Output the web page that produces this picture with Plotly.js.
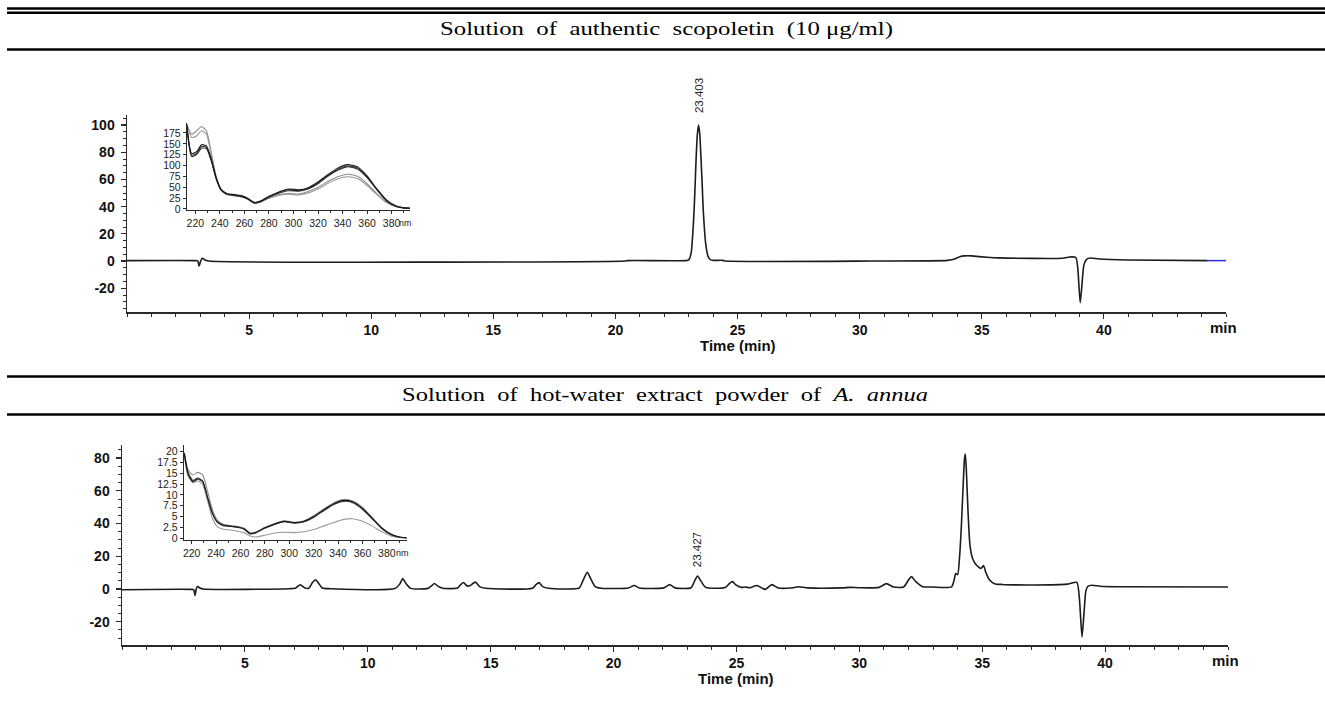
<!DOCTYPE html>
<html>
<head>
<meta charset="utf-8">
<script src="https://cdn.plot.ly/plotly-3.0.1.min.js"></script>
<style>html,body{margin:0;padding:0;background:#fff;}#chart{width:1325px;height:708px;}</style>
</head>
<body>
<div id="chart"></div>
<script>
// ---------- Chromatogram: authentic scopoletin (top) ----------
const topTime   = [0, 2.8, 2.9, 2.95, 3.0, 3.08, 3.2, 3.35, 20.4, 20.5, 22.9, 23.0, 23.1, 23.2, 23.25, 23.3, 23.35, 23.4, 23.45, 23.5, 23.55, 23.6, 23.7, 23.8, 23.9, 24.0, 24.4, 24.5, 30.5, 33.6, 33.9, 34.1, 34.3, 34.6, 34.9, 35.2, 35.7, 38.3, 38.6, 38.85, 38.93, 39.03, 39.1, 39.18, 39.3, 39.45, 39.8, 41.0, 44.25];
const topSignal = [0.3, 0.3, 0, -3.7, -1, 2, 0.8, 0, 0, 0.3, 0.3, 0.8, 6, 30, 50, 74, 92, 100, 94, 77, 57, 36, 12, 3, 0.8, 0.5, 0.5, 0, 0, 0.5, 1.5, 3.2, 3.8, 3.8, 3.2, 2.8, 2.3, 2.0, 3.0, 2.6, -5, -30.6, -18, -3, 1.4, 2.2, 1.5, 0.7, 0.3];
const topTailTime   = [44.25, 45];
const topTailSignal = [0.3, 0.3];

// ---------- Chromatogram: hot-water extract of A. annua (bottom) ----------
const botTime   = [0, 2.8, 2.92, 2.97, 3.02, 3.07, 3.15, 3.3, 6.8, 7.05, 7.25, 7.45, 7.6, 7.75, 7.88, 8.0, 8.15, 8.5,
  11.1, 11.3, 11.42, 11.55, 11.75, 12.45, 12.6, 12.71, 12.85, 13.05, 13.65, 13.8, 13.89, 14.05, 14.15, 14.38, 14.55, 14.8,
  16.7, 16.85, 16.97, 17.12, 17.35, 18.6, 18.75, 18.93, 19.08, 19.25, 19.5, 20.6, 20.84, 21.05, 22.05, 22.28, 22.5,
  23.15, 23.3, 23.42, 23.55, 23.75, 24.55, 24.72, 24.84, 24.98, 25.2, 25.36, 25.55, 25.83, 26.17, 26.44, 26.7, 27.2, 27.53, 27.9,
  29.3, 29.63, 30.0, 30.8, 31.1, 31.4, 31.8, 32.0, 32.12, 32.3, 32.55, 33.0, 33.75, 33.85, 33.92, 34.0, 34.08, 34.15, 34.22, 34.28, 34.31,
  34.35, 34.42, 34.5, 34.6, 34.72, 34.85, 34.95, 35.05, 35.15, 35.3, 35.5, 35.8, 37.1, 38.45, 38.85, 38.95, 39.06, 39.14, 39.22, 39.3, 39.46, 39.8, 40.5, 45];
const botSignal = [-0.4, -0.2, -0.5, -4, 0, 1.6, 0.8, 0, 0.2, 0.5, 2.6, 0.6, 0.5, 4, 5.6, 3.5, 0.6, 0.2,
  0.3, 3, 6.4, 3.5, 0.4, 0.4, 2, 3.4, 1.8, 0.5, 0.6, 3, 4, 1.8, 2, 4.2, 1.5, 0.5,
  0.5, 2.8, 3.9, 1.5, 0.5, 0.6, 5, 10.2, 6, 1.5, 0.5, 0.6, 2.2, 0.6, 0.7, 2.7, 0.7,
  0.8, 5, 8, 5, 1, 1, 3.5, 4.5, 2.5, 1, 1.2, 0.8, 2.2, -0.2, 2.7, 0.6, 0.6, 1.4, 0.7,
  0.7, 1, 0.8, 1.0, 3.3, 1.2, 1.2, 5.5, 7.6, 4.5, 1.6, 1.2, 1.3, 5, 9.5, 8.8, 20, 38, 62, 80, 82.5,
  74, 48, 27, 19, 15.5, 13.5, 12.5, 14.3, 10, 5.5, 3.3, 2.8, 2.5, 3.0, 4.1, -5, -29.3, -15, -1, 1.6, 2.3, 1.7, 1.4, 1.2];

// ---------- Peak labels ----------
const topPeakTimes = [23.403], topPeakHeights = [100], topPeakLabels = ['23.403'];
const botPeakTimes = [23.427], botPeakHeights = [8],   botPeakLabels = ['23.427'];

// ---------- UV spectra insets ----------
const wlTop = [213, 217, 221, 225, 229, 233, 237, 241, 246, 252, 258, 263, 268, 273, 280, 288, 296, 304, 312, 320, 328, 336, 344, 352, 360, 368, 376, 384, 390, 395];
const specTopGrey1 = [195, 172, 180, 190, 180, 130, 75, 45, 34, 31, 28, 23, 15, 17, 26, 33, 36, 34, 40, 50, 63, 74, 80, 75, 58, 35, 15, 5, 2, 1.5];
const specTopGrey2 = [195, 165, 168, 180, 172, 125, 72, 44, 33, 30, 27, 22, 14, 16, 24, 31, 34, 32, 37, 46, 59, 69, 74, 70, 54, 33, 14, 4.5, 2, 1.5];
const specTopDark1 = [195, 128, 132, 148, 145, 115, 72, 45, 35, 33, 30, 24, 15, 18, 29, 39, 46, 44, 49, 62, 79, 94, 102, 97, 76, 46, 20, 6, 2.5, 1.5];
const specTopDark2 = [193, 124, 128, 144, 142, 112, 70, 44, 34, 32, 29, 23, 14, 17, 28, 38, 44, 42, 47, 60, 77, 91, 99, 94, 74, 45, 19, 6, 2.5, 1.5];
const specTopDark3 = [190, 121, 125, 140, 139, 110, 69, 43, 33, 31, 28, 22, 13, 16, 27, 36, 42, 41, 46, 58, 75, 89, 97, 92, 72, 44, 18, 5.5, 2, 1.5];

const wlBot = [214, 217, 221, 225, 229, 233, 237, 241, 246, 252, 258, 263, 268, 273, 280, 288, 296, 304, 312, 320, 328, 336, 344, 352, 360, 368, 376, 384, 390, 396];
const specBotDark1 = [19.6, 15.2, 13.3, 13.9, 13.2, 9.5, 5.8, 3.8, 3.0, 2.8, 2.6, 2.2, 1.1, 1.4, 2.4, 3.3, 3.9, 3.6, 3.9, 5.0, 6.5, 7.9, 8.7, 8.4, 6.9, 4.6, 2.3, 0.8, 0.3, 0.1];
const specBotDark2 = [19.3, 14.8, 13.0, 13.6, 13.0, 9.3, 5.7, 3.7, 2.9, 2.7, 2.5, 2.1, 1.0, 1.3, 2.3, 3.2, 3.8, 3.5, 3.8, 4.8, 6.3, 7.7, 8.5, 8.2, 6.7, 4.5, 2.2, 0.8, 0.3, 0.1];
const specBotGrey  = [19.8, 15.8, 14.6, 15.2, 14.6, 10.8, 6.6, 4.2, 3.2, 2.9, 2.7, 2.3, 1.2, 1.5, 2.5, 3.4, 4.0, 3.7, 4.0, 5.2, 6.7, 8.1, 8.9, 8.6, 7.1, 4.8, 2.4, 0.9, 0.3, 0.1];
const specBotLight = [19.0, 14.3, 12.8, 13.2, 12.4, 8.6, 4.6, 2.7, 2.1, 1.9, 1.6, 1.3, 0.5, 0.3, 0.7, 1.2, 1.4, 1.3, 1.5, 2.0, 2.8, 3.6, 4.3, 4.5, 3.9, 2.8, 1.5, 0.5, 0.2, 0.1];

// ---------- Tick labels ----------
const timeTicks = [5, 10, 15, 20, 25, 30, 35, 40];
const topYTicks = [-20, 0, 20, 40, 60, 80, 100];
const botYTicks = [-20, 0, 20, 40, 60, 80];
const nmTicks = [220, 240, 260, 280, 300, 320, 340, 360, 380];
const insetTopYTicks = [0, 25, 50, 75, 100, 125, 150, 175];
const insetBotYTicks = [0, 2.5, 5, 7.5, 10, 12.5, 15, 17.5, 20];
const insetBotYText = ['0', '2.5', '5', '7.5', '10', '12.5', '15', '17.5', '20'];

const titleTopWords = ['Solution', 'of', 'authentic', 'scopoletin', '(10 μg/ml)'];
const titleBotWords = ['Solution', 'of', 'hot-water', 'extract', 'powder', 'of', '<i>A.</i>', '<i>annua</i>'];

// ---------- Build ----------
const W = 1325, H = 708;
const px = v => v / W, py = v => 1 - v / H;
const GAP = '\u00A0\u00A0';

const dark = '#1c1c1c';
const line = (x, y, xa, ya, color, width, shape) => ({
  x, y, xaxis: xa, yaxis: ya, type: 'scatter', mode: 'lines',
  line: {color, width, shape: shape || 'spline', smoothing: 0.6}, hoverinfo: 'skip'
});

const data = [
  line(topTime, topSignal, 'x', 'y', dark, 1.6),
  line(topTailTime, topTailSignal, 'x', 'y', '#2a2aff', 1.5, 'linear'),
  line(botTime, botSignal, 'x2', 'y2', dark, 1.6),
  line(wlTop, specTopGrey1, 'x3', 'y3', '#8c8c8c', 1.1),
  line(wlTop, specTopGrey2, 'x3', 'y3', '#9a9a9a', 1.1),
  line(wlTop, specTopDark3, 'x3', 'y3', '#3a3a3a', 1.1),
  line(wlTop, specTopDark2, 'x3', 'y3', '#2a2a2a', 1.1),
  line(wlTop, specTopDark1, 'x3', 'y3', '#1a1a1a', 1.1),
  line(wlBot, specBotLight, 'x4', 'y4', '#9a9a9a', 1.1),
  line(wlBot, specBotGrey, 'x4', 'y4', '#8a8a8a', 1.1),
  line(wlBot, specBotDark2, 'x4', 'y4', '#2e2e2e', 1.1),
  line(wlBot, specBotDark1, 'x4', 'y4', '#1a1a1a', 1.1)
];

const tickFontBold = {family: 'Liberation Sans, Arial, sans-serif', size: 14, color: '#111', weight: 'bold'};
const tickFontSmall = {family: 'Liberation Sans, Arial, sans-serif', size: 10.5, color: '#222'};
const axColor = '#2a2a2a';

function mainX(domain, anchor) {
  return {domain, anchor, range: [0, 45], showline: true, linecolor: axColor, linewidth: 1.5,
    ticks: 'outside', ticklen: 5, tickwidth: 1.2, tickcolor: axColor, tickmode: 'array', tickvals: timeTicks,
    ticktext: timeTicks.map(String), tickfont: tickFontBold, tickangle: 0, showgrid: false, zeroline: false,
    minor: {dtick: 1, tick0: 0, ticks: 'outside', ticklen: 3, tickwidth: 1, tickcolor: axColor, showgrid: false},
    fixedrange: true, automargin: false};
}
function mainY(domain, anchor, range, ticks) {
  return {domain, anchor, range, showline: true, linecolor: axColor, linewidth: 1.5,
    ticks: 'outside', ticklen: 5, tickwidth: 1.2, tickcolor: axColor, tickmode: 'array', tickvals: ticks,
    ticktext: ticks.map(String), tickfont: tickFontBold, ticklabelstandoff: 3, showgrid: false, zeroline: false,
    minor: {dtick: 5, tick0: 0, ticks: 'outside', ticklen: 3, tickwidth: 1, tickcolor: axColor, showgrid: false},
    fixedrange: true, automargin: false};
}
function insetX(domain, anchor, range) {
  return {domain, anchor, range, showline: true, linecolor: axColor, linewidth: 1.2,
    ticks: 'outside', ticklen: 3, tickwidth: 1, tickcolor: axColor, tickmode: 'array', tickvals: nmTicks,
    ticktext: nmTicks.map(String), tickfont: tickFontSmall, tickangle: 0, ticklabelstandoff: 0, showgrid: false, zeroline: false,
    minor: {dtick: 10, tick0: 0, ticks: 'outside', ticklen: 2, tickwidth: 1, tickcolor: axColor, showgrid: false},
    fixedrange: true, automargin: false};
}
function insetY(domain, anchor, range, ticks, text) {
  return {domain, anchor, range, showline: true, linecolor: axColor, linewidth: 1.2,
    ticks: 'outside', ticklen: 3, tickwidth: 1, tickcolor: axColor, tickmode: 'array', tickvals: ticks,
    ticktext: text || ticks.map(String), tickfont: tickFontSmall, ticklabelstandoff: 0, showgrid: false, zeroline: false,
    fixedrange: true, automargin: false};
}

const titleFont = {family: 'Liberation Serif, Times New Roman, serif', size: 18.5, color: '#000'};
const labelFont = {family: 'Liberation Sans, Arial, sans-serif', size: 15, color: '#111', weight: 'bold'};
const peakFont = {family: 'Liberation Sans, Arial, sans-serif', size: 11.5, color: '#222'};
const nmFont = {family: 'Liberation Sans, Arial, sans-serif', size: 9, color: '#222'};

// title geometry (centre x, centre y, full width in px)
const titles = [
  {words: titleTopWords, cx: 666.5, cy: 29.5, width: 453},
  {words: titleBotWords, cx: 665, cy: 395, width: 526}
];

const annotations = titles.map(t => ({xref: 'paper', yref: 'paper', x: px(t.cx), y: py(t.cy), text: t.words.join(GAP),
  showarrow: false, font: titleFont, xanchor: 'center', yanchor: 'middle'}));
annotations.push(
  {xref: 'x', yref: 'paper', x: 25, y: py(345), text: 'Time (min)', showarrow: false, font: labelFont, xanchor: 'center', yanchor: 'middle'},
  {xref: 'x2', yref: 'paper', x: 25, y: py(678), text: 'Time (min)', showarrow: false, font: labelFont, xanchor: 'center', yanchor: 'middle'},
  {xref: 'x', yref: 'paper', x: 44.9, y: py(327), text: 'min', showarrow: false, font: labelFont, xanchor: 'center', yanchor: 'middle'},
  {xref: 'x2', yref: 'paper', x: 44.9, y: py(660), text: 'min', showarrow: false, font: labelFont, xanchor: 'center', yanchor: 'middle'},
  {xref: 'paper', yref: 'paper', x: px(405.5), y: py(223.5), text: 'nm', showarrow: false, font: nmFont, xanchor: 'center', yanchor: 'middle'},
  {xref: 'paper', yref: 'paper', x: px(403), y: py(553), text: 'nm', showarrow: false, font: nmFont, xanchor: 'center', yanchor: 'middle'}
);
topPeakTimes.forEach((t, i) => annotations.push({xref: 'x', yref: 'y', x: t, y: topPeakHeights[i], text: topPeakLabels[i], textangle: -90, showarrow: false, font: peakFont, xanchor: 'center', yanchor: 'bottom', yshift: 10}));
botPeakTimes.forEach((t, i) => annotations.push({xref: 'x2', yref: 'y2', x: t, y: botPeakHeights[i], text: botPeakLabels[i], textangle: -90, showarrow: false, font: peakFont, xanchor: 'center', yanchor: 'bottom', yshift: 7}));

const rule = (y, w) => ({type: 'line', xref: 'paper', yref: 'paper', x0: px(7), x1: 1, y0: py(y), y1: py(y), line: {color: '#000', width: w}});
const shapes = [rule(8.5, 2.4), rule(12.8, 2.6), rule(49.5, 2.5), rule(376.5, 2.5), rule(414.5, 2.5)];

const layout = {
  width: W, height: H, margin: {l: 0, r: 0, t: 0, b: 0, pad: 0},
  paper_bgcolor: '#fff', plot_bgcolor: 'rgba(0,0,0,0)', showlegend: false,
  xaxis: mainX([px(127), px(1226)], 'y'),
  yaxis: mainY([py(312), py(115)], 'x', [-37.5, 107.4], topYTicks),
  xaxis2: mainX([px(122), px(1228)], 'y2'),
  yaxis2: mainY([py(645), py(445)], 'x2', [-34.2, 88], botYTicks),
  xaxis3: insetX([px(187), px(410)], 'y3', [213.2, 395]),
  yaxis3: insetY([py(210), py(123)], 'x3', [-2.5, 198], insetTopYTicks),
  xaxis4: insetX([px(184), px(407)], 'y4', [213.7, 396.5]),
  yaxis4: insetY([py(540), py(445)], 'x4', [-0.4, 21.5], insetBotYTicks, insetBotYText),
  annotations, shapes
};

Plotly.newPlot('chart', data, layout, {staticPlot: true, displayModeBar: false}).then(gd => {
  // The reference's table-heading text is horizontally stretched: fit each heading to its measured width.
  titles.forEach((t, i) => {
    const el = gd.querySelector('.annotation[data-index="' + i + '"] text.annotation-text');
    if (!el) return;
    el.setAttribute('textLength', t.width);
    el.setAttribute('lengthAdjust', 'spacingAndGlyphs');
    const bb = el.getBoundingClientRect();
    const host = gd.getBoundingClientRect();
    const shift = t.cx - ((bb.left - host.left) + bb.width / 2);
    const prev = el.getAttribute('transform') || '';
    el.setAttribute('transform', prev + ' translate(' + shift.toFixed(2) + ',0)');
  });
});
</script>
</body>
</html>
